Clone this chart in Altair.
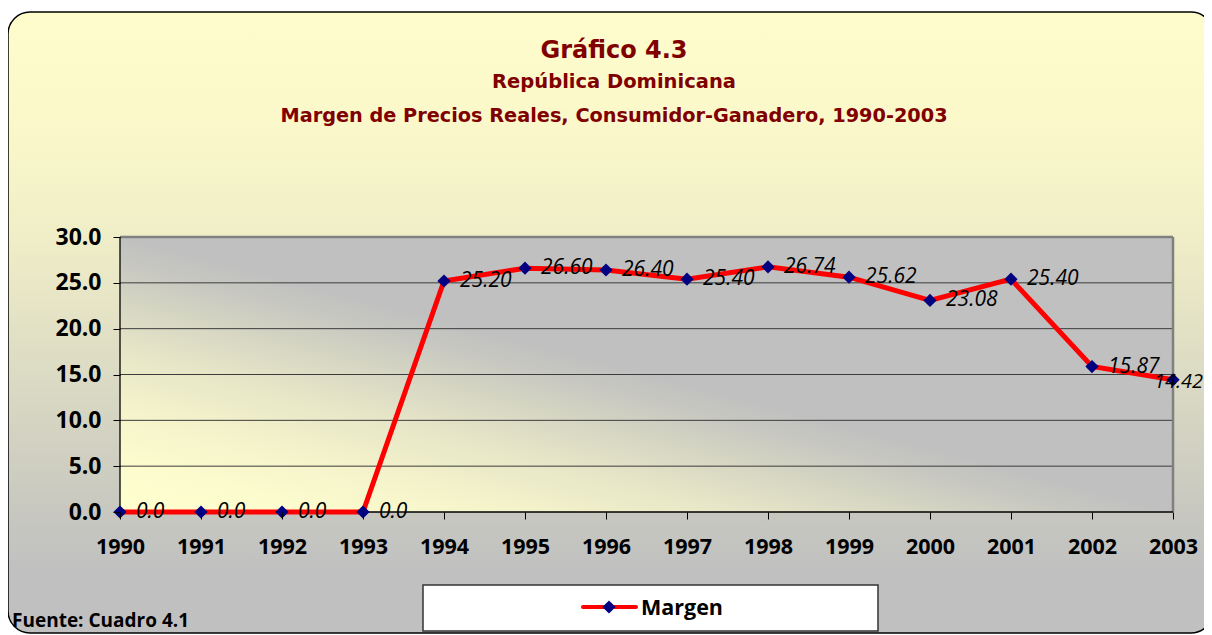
import altair as alt
import pandas as pd

# ---------------- data ----------------
years = [1990, 1991, 1992, 1993, 1994, 1995, 1996, 1997, 1998, 1999, 2000, 2001, 2002, 2003]
margen = [0.0, 0.0, 0.0, 0.0, 25.20, 26.60, 26.40, 25.40, 26.74, 25.62, 23.08, 25.40, 15.87, 14.42]
y_ticks = [0, 5, 10, 15, 20, 25, 30]
grid_vals = [5, 10, 15, 20, 25]
series_name = "Margen"
title_main = "Gráfico 4.3"
subtitle1 = "República Dominicana"
subtitle2 = "Margen de Precios Reales, Consumidor-Ganadero, 1990-2003"
source_note = "Fuente: Cuadro 4.1"

# ---------------- layout ----------------
W, H = 1053, 275
FONT = "Open Sans"
TFONT = "DejaVu Sans"
TITLE_COLOR = "#800000"

df = pd.DataFrame({"year": years, "value": margen})
one = pd.DataFrame({"k": [0]})

xs = alt.Scale(domain=[years[0], years[-1]], nice=False, zero=False)
ys = alt.Scale(domain=[0, 30], nice=False)

xaxis = alt.Axis(values=years, format="d", labelFont=FONT, labelFontSize=21.5,
                 labelFontWeight="bold", labelColor="black", labelPadding=17,
                 tickSize=7, tickColor="black", tickWidth=1, domain=False, grid=False,
                 labelAngle=0, labelFlush=False, labelOverlap=False, title=None, zindex=1)
yaxis = alt.Axis(values=y_ticks, format=".1f", labelFont=FONT, labelFontSize=23,
                 labelFontWeight="bold", labelColor="black", labelPadding=12,
                 tickSize=7, tickColor="black", tickWidth=1, domain=False, grid=False,
                 title=None, zindex=1)

frame_fill = {
    "gradient": "linear", "x1": 0, "y1": 0, "x2": 0, "y2": 1,
    "stops": [
        {"offset": 0, "color": "#FFFCCC"},
        {"offset": 0.19, "color": "#FAF8CA"},
        {"offset": 0.36, "color": "#F0EEC7"},
        {"offset": 0.58, "color": "#DCDBC4"},
        {"offset": 0.8, "color": "#C8C8C0"},
        {"offset": 0.9, "color": "#C0C0C0"},
        {"offset": 1, "color": "#C0C0C0"},
    ],
}
plot_fill = {
    "gradient": "linear", "x1": 0, "y1": 1, "x2": 1, "y2": 0,
    "stops": [
        {"offset": 0, "color": "#FFFFCF"},
        {"offset": 0.1, "color": "#FCFBCE"},
        {"offset": 0.2, "color": "#F3F2CA"},
        {"offset": 0.3, "color": "#E6E5C7"},
        {"offset": 0.38, "color": "#D6D6C3"},
        {"offset": 0.45, "color": "#C8C8C1"},
        {"offset": 0.5, "color": "#C0C0C0"},
        {"offset": 1, "color": "#C0C0C0"},
    ],
}

frame = alt.Chart(one).mark_rect(cornerRadius=22, stroke="black", strokeWidth=1.5,
                                 fill=frame_fill).encode(
    x=alt.value(-112), x2=alt.value(1093), y=alt.value(-225), y2=alt.value(396))

plot_bg = alt.Chart(one).mark_rect(fill=plot_fill).encode(
    x=alt.value(0), x2=alt.value(W), y=alt.value(0), y2=alt.value(H))

grid = alt.Chart(pd.DataFrame({"g": grid_vals})).mark_rule(color="#3c3c3c", strokeWidth=1).encode(
    y=alt.Y("g:Q", scale=ys, axis=yaxis), x=alt.value(0), x2=alt.value(W))

top_border = alt.Chart(one).mark_rule(color="#808080", strokeWidth=2.5).encode(
    x=alt.value(0), x2=alt.value(W), y=alt.value(0))
right_border = alt.Chart(one).mark_rule(color="#808080", strokeWidth=2.5).encode(
    x=alt.value(W), y=alt.value(0), y2=alt.value(H))
left_axis = alt.Chart(one).mark_rule(color="black", strokeWidth=1.3).encode(
    x=alt.value(0), y=alt.value(0), y2=alt.value(H))
bottom_axis = alt.Chart(one).mark_rule(color="black", strokeWidth=1.3).encode(
    x=alt.value(0), x2=alt.value(W), y=alt.value(H))

base = alt.Chart(df).encode(
    x=alt.X("year:Q", scale=xs, axis=xaxis),
    y=alt.Y("value:Q", scale=ys, axis=yaxis),
)
line = base.mark_line(color="#FF0000", strokeWidth=5)
pts = base.mark_point(shape="diamond", filled=True, color="#000080", size=175, opacity=1)

lbl_expr = "datum.value == 0 ? format(datum.value, '.1f') : format(datum.value, '.2f')"
labels = base.transform_calculate(lbl=lbl_expr).transform_filter(
    f"datum.year < {years[-1]}").mark_text(
    align="left", baseline="middle", dx=16, font=FONT, fontStyle="italic",
    fontSize=21, color="black").encode(text="lbl:N")
last_label = base.transform_calculate(lbl=lbl_expr).transform_filter(
    f"datum.year == {years[-1]}").mark_text(
    align="left", baseline="middle", dx=-19, dy=2, font=FONT, fontStyle="italic",
    fontSize=20, color="black").encode(text="lbl:N")


def text_layer(txt, x, y, size, color, align="center", weight="bold", font=FONT):
    return alt.Chart(pd.DataFrame({"t": [txt]})).mark_text(
        align=align, baseline="alphabetic", font=font, fontSize=size,
        fontWeight=weight, color=color).encode(
        text="t:N", x=alt.value(x), y=alt.value(y))


t1 = text_layer(title_main, 494, -179, 24, TITLE_COLOR, font=TFONT)
t2 = text_layer(subtitle1, 494, -149, 19.5, TITLE_COLOR, font=TFONT)
t3 = text_layer(subtitle2, 494, -115, 19.3, TITLE_COLOR, font=TFONT)
src = text_layer(source_note, -108, 390, 19, "black", align="left")

leg_box = alt.Chart(one).mark_rect(fill="white", stroke="#333333", strokeWidth=1.5).encode(
    x=alt.value(303), x2=alt.value(758), y=alt.value(348), y2=alt.value(394))
leg_line = alt.Chart(one).mark_rule(color="#FF0000", strokeWidth=4, strokeCap="round").encode(
    x=alt.value(463), x2=alt.value(516), y=alt.value(370))
leg_pt = alt.Chart(one).mark_point(shape="diamond", filled=True, color="#000080",
                                   size=175, opacity=1).encode(
    x=alt.value(489), y=alt.value(370))
leg_txt = text_layer(series_name, 521, 378, 21.5, "black", align="left")

chart = alt.layer(
    frame, plot_bg, grid, top_border, right_border, left_axis, bottom_axis,
    line, pts, labels, last_label, t1, t2, t3, src,
    leg_box, leg_line, leg_pt, leg_txt,
).properties(
    width=W, height=H,
    autosize=alt.AutoSizeParams(type="none"),
    padding={"left": 112, "top": 229, "right": 31, "bottom": 123},
    background="white",
).configure_view(strokeWidth=0)

chart.save("out.html", embed_options={"renderer": "svg", "actions": False})
